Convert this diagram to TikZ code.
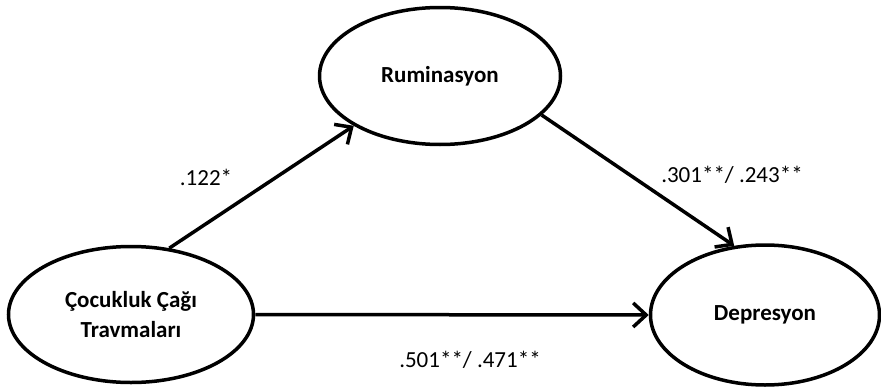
\documentclass[tikz,border=0pt]{standalone}
\usepackage{fontspec}
\setmainfont{Carlito}
\usetikzlibrary{shapes.geometric,arrows.meta}
\begin{document}
\begin{tikzpicture}[x=1pt,y=-1pt,
  latent/.style={ellipse,draw,line width=3.5pt,inner sep=0pt,font=\fontsize{23}{30}\selectfont\bfseries,align=center},
  path/.style={line width=3.5pt,-{Straight Barb[length=13pt,width=24pt,line width=3.5pt]}},
  coef/.style={font=\fontsize{23}{28}\selectfont,inner sep=0pt}]
\useasboundingbox (0,0) rectangle (881,388);
\node[latent,minimum width=245pt,minimum height=136pt] (coc) at (131,314.5) {Çocukluk Çağı\\Travmaları};
\node[latent,minimum width=241pt,minimum height=137pt] (rum) at (440,76) {Ruminasyon};
\node[latent,minimum width=229pt,minimum height=140pt] (dep) at (765,315) {Depresyon};
\draw[path] (coc.60) -- (rum.210);
\draw[path] (rum.339) -- (dep.114);
\draw[path] (coc.east) -- (dep.west);
\node[coef] (a) at (206,177) {.122*};
\node[coef] (b) at (732,175) {.301**/ .243**};
\node[coef] (c) at (470,360) {.501**/ .471**};
\end{tikzpicture}
\end{document}
